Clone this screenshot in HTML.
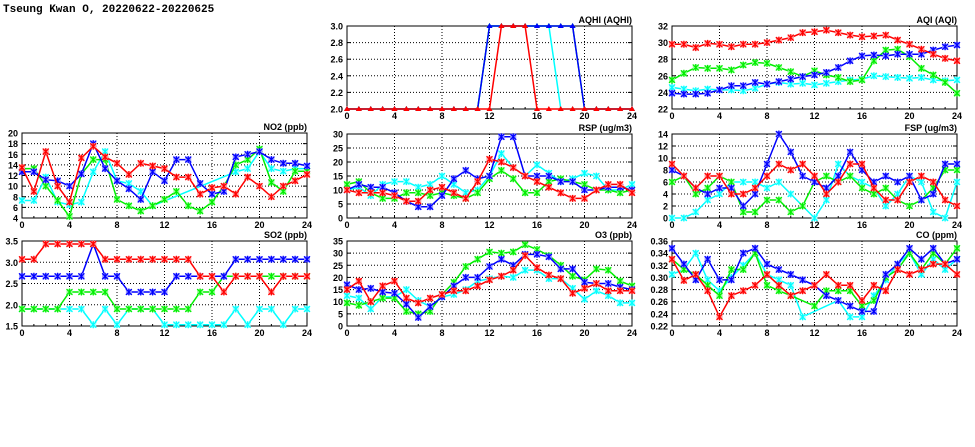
<!DOCTYPE html>
<html><head><meta charset="utf-8">
<style>
html,body{margin:0;padding:0;background:#fff;width:975px;height:447px;overflow:hidden}
svg{display:block;font-family:"Liberation Sans",sans-serif}
</style></head>
<body>
<svg id="chart" width="975" height="447" viewBox="0 0 975 447" xmlns="http://www.w3.org/2000/svg">
<text x="3" y="12" font-size="11" font-weight="bold" font-family="Liberation Mono, monospace">Tseung Kwan O, 20220622-20220625</text>
</svg>
<script>
const hours = [0,1,2,3,4,5,6,7,8,9,10,11,12,13,14,15,16,17,18,19,20,21,22,23,24];
const xTicks = [0,4,8,12,16,20,24];
const seriesOrder = ['cyan','green','blue','red'];

const aqhiRed   = [2,2,2,2,2,2,2,2,2,2,2,2,2,3,3,3,2,2,2,2,2,2,2,2,2];
const aqhiBlue  = [2,2,2,2,2,2,2,2,2,2,2,2,3,3,3,3,3,3,3,3,2,2,2,2,2];
const aqhiGreen = [2,2,2,2,2,2,2,2,2,2,2,2,3,3,3,3,3,3,3,3,2,2,2,2,2];
const aqhiCyan  = [2,2,2,2,2,2,2,2,2,2,2,2,3,3,3,3,3,3,2,2,2,2,2,2,2];
const aqhiTicks = [2.0,2.2,2.4,2.6,2.8,3.0];

const aqiRed   = [29.8,29.8,29.4,29.9,29.8,29.5,29.8,29.8,30,30.3,30.6,31.2,31.3,31.5,31.2,30.9,30.7,30.8,30.9,30.3,29.8,29.2,28.6,28.1,27.8];
const aqiBlue  = [23.9,23.8,23.8,23.9,24.3,24.8,24.8,25.2,25,25.3,25.6,25.9,26.1,26.4,27,27.8,28.4,28.5,28.4,28.6,28.6,28.6,29.1,29.5,29.7];
const aqiGreen = [25.5,26.3,27,26.9,26.9,26.7,27.3,27.6,27.5,27,26.5,25.9,26.6,26.1,25.8,25.3,25.5,27.8,29.1,29.2,28.3,26.9,26.1,25.2,23.9];
const aqiCyan  = [24.6,24.4,24.2,24.4,24.3,24.3,24.2,24.5,25,25.2,25,25.1,24.9,25.1,25.3,25.5,25.6,26,25.9,25.8,25.7,25.8,25.5,25.4,25.5];
const aqiTicks = [22,24,26,28,30,32];

const no2Red   = [13.5,9,16.5,10,7,15.3,17.5,15.5,14.3,12.2,14.3,13.8,13.3,11.7,11.7,8.5,9.7,10,8.5,11.7,10,8,10,11,12.2];
const no2Blue  = [12.7,12.7,11.2,11,10,12.3,18,13.3,11,9.5,7.5,12.7,11,15,15,10.5,8.5,9,15.5,16,16.5,15,14.3,14.3,13.8];
const no2Green = [13.3,13.3,10,7.3,4.3,12.3,15,15,7.5,6.3,5.3,6.3,7.5,9,6.3,5.3,7,10,14,15,17,10.7,9,12.8,12.8];
const no2Cyan  = [7.3,7.3,11.7,7,6.5,7,12.7,16.5,11,10.5,9,6.3,null,null,null,null,null,null,12.7,13.3,16.5,13.3,12.8,13.3,13.3];
const no2Ticks = [4,6,8,10,12,14,16,18,20];

const rspRed   = [10,9,9,9,8,6,6,10,11,9,7,13,21,20,18,15,13,11,9,7,7,10,12,12,9];
const rspBlue  = [10,12,11,11,9,6,4,4,8,14,17,14,15,29,29,15,15,15,13,13,10,10,11,11,10];
const rspGreen = [12,13,9,7,7,9,9,8,9,8,7,9,14,17,14,9,9,13,14,13,12,10,10,9,10];
const rspCyan  = [10,11,8,12,13,13,11,12,15,12,9,10,15,23,18,15,19,16,13,14,16,15,10,10,12];
const rspTicks = [0,5,10,15,20,25,30];

const fspRed   = [9,7,5,7,7,4,4,5,7,9,8,9,7,4,6,9,9,5,3,3,6,7,6,3,2];
const fspBlue  = [8,7,5,4,5,5,2,4,9,14,11,7,6,5,7,11,8,6,7,6,7,3,4,9,9];
const fspGreen = [6,7,4,5,7,6,1,1,3,3,1,2,6,7,6,7,5,4,5,3,2,3,5,8,8];
const fspCyan  = [0,0,1,3,4,6,6,6,5,6,4,2,0,3,9,7,6,5,2,4,7,6,1,0,6];
const fspTicks = [0,2,4,6,8,10,12,14];

const so2Red   = [3.07,3.07,3.43,3.43,3.43,3.43,3.43,3.07,3.07,3.07,3.07,3.07,3.07,3.07,3.07,2.67,2.67,2.3,2.67,2.67,2.67,2.3,2.67,2.67,2.67];
const so2Blue  = [2.67,2.67,2.67,2.67,2.67,2.67,3.43,2.67,2.67,2.3,2.3,2.3,2.3,2.67,2.67,2.67,2.67,2.67,3.07,3.07,3.07,3.07,3.07,3.07,3.07];
const so2Green = [1.9,1.9,1.9,1.9,2.3,2.3,2.3,2.3,1.9,1.9,1.9,1.9,1.9,1.9,1.9,2.3,2.3,2.67,2.67,2.67,2.67,2.67,2.67,2.67,2.67];
const so2Cyan  = [1.9,1.9,1.9,1.9,1.9,1.9,1.53,1.9,1.53,1.9,1.9,1.9,1.53,1.53,1.53,1.53,1.53,1.53,1.9,1.53,1.9,1.9,1.53,1.9,1.9];
const so2Ticks = [1.5,2.0,2.5,3.0,3.5];

const o3Red   = [15,18.5,10,16.5,18.5,11.5,9.5,11.5,13,14.5,14.5,16.5,19,20.5,23,29,24,21,19.5,13.5,15.5,17.5,14.5,14.5,14.5];
const o3Blue  = [17,15,15.5,14,13.5,9,3.5,8,12,16.5,20,20,24.5,27.5,25,29.5,29.5,28.5,23.5,23.5,18,17.5,17.5,16,15];
const o3Green = [9.5,8.5,10,11.5,11.5,6,5,6,13,18,24.5,27.5,30.5,30,30.5,33.5,31.5,29,25,20.5,19,23.5,23,18.5,16.5];
const o3Cyan  = [12.5,11.5,7,12,12,15,10.5,8,12,13,15,18.5,19.5,20.5,20,23,23,19.5,19.5,15.5,11,14.5,12.5,9.5,9.5];
const o3Ticks = [0,5,10,15,20,25,30,35];

const coRed   = [.33,.295,.305,.278,.235,.27,.278,.287,.305,.287,.27,.278,.287,.305,.287,.287,.262,.287,.278,.313,.305,.313,.322,.322,.305];
const coBlue  = [.348,.322,.296,.33,.296,.296,.34,.348,.322,.313,.305,.296,.287,.27,.262,.253,.244,.244,.305,.322,.348,.33,.348,.322,.33];
const coGreen = [.33,.313,.305,.287,.27,.313,.313,.34,.287,.278,.27,null,.253,.278,.278,.278,.253,.262,.30,.313,.34,.313,.34,.322,.348];
const coCyan  = [.305,.313,.34,.296,.278,.30,.32,.34,.305,.296,.287,.235,null,null,.262,.235,.235,.27,.296,.322,.34,.305,.33,.313,.33];
const coTicks = [0.22,0.24,0.26,0.28,0.30,0.32,0.34,0.36];

const colors = {red:'#ff0000',blue:'#0000ff',green:'#00ee00',cyan:'#00ffff'};
const fills = {red:'#ff9999',blue:'#9999ff',green:'#99ff99',cyan:'#aaffff'};
const NS = 'http://www.w3.org/2000/svg';
const svg = document.getElementById('chart');

function mk(tag, attrs, parent){
  const e = document.createElementNS(NS, tag);
  for (const k in attrs) e.setAttribute(k, attrs[k]);
  (parent||svg).appendChild(e);
  return e;
}

function panel(cfg){
  const g = mk('g', {});
  
  
  const L = cfg.x, T = cfg.y, W = 285, H = cfg.h;
  const ymin = cfg.ticks[0], ymax = cfg.ticks[cfg.ticks.length-1];
  const sx = v => L + (v - 0) / 24 * W;
  const sy = v => T + H - (v - ymin) / (ymax - ymin) * H;
  // grid
  cfg.ticks.forEach((t, i) => {
    const y = sy(t);
    if (i > 0 && i < cfg.ticks.length-1) {
      const gl = mk('line', {x1:L, x2:L+W, y1:y, y2:y, stroke:'#000', 'stroke-width':1, 'stroke-dasharray':'1,2'}, g);
      
      
    }
    mk('line', {x1:L, x2:L+4, y1:y, y2:y, stroke:'#000'}, g);
    mk('line', {x1:L+W-4, x2:L+W, y1:y, y2:y, stroke:'#000'}, g);
    const tl = mk('text', {x:L-4, y:y+3.5, 'text-anchor':'end', 'font-size':9, 'font-weight':'bold'}, g);
    tl.textContent = cfg.fmt(t);
    
    
  });
  hours.forEach(h => {
    const x = sx(h);
    mk('line', {x1:x, x2:x, y1:T+H, y2:T+H-2, stroke:'#000'}, g);
  });
  xTicks.forEach((t, i) => {
    const x = sx(t);
    if (i > 0 && i < xTicks.length-1) {
      const gl = mk('line', {x1:x, x2:x, y1:T, y2:T+H, stroke:'#000', 'stroke-width':1, 'stroke-dasharray':'1,2'}, g);
      
      
    }
    const tl = mk('text', {x:x, y:T+H+10, 'text-anchor':'middle', 'font-size':9, 'font-weight':'bold'}, g);
    tl.textContent = t;
    
    
  });
  const frame = mk('rect', {x:L, y:T, width:W, height:H, fill:'none', stroke:'#000', 'stroke-width':1}, g);
  
  
  const ttl = mk('text', {x:L+W, y:T-3, 'text-anchor':'end', 'font-size':9, 'font-weight':'bold'}, g);
  ttl.textContent = cfg.title;
  
  
  // series
  seriesOrder.forEach(c => {
    const data = cfg.series[c];
    const sg = mk('g', {}, g);
    
    
    let d = '';
    hours.forEach((h, i) => {
      const v = data[i];
      if (v === null || v === undefined) return;
      d += (d ? 'L' : 'M') + sx(h).toFixed(1) + ',' + sy(v).toFixed(1);
    });
    const p = mk('path', {d:d, fill:'none', stroke:colors[c], 'stroke-width':1.5}, sg);
    
    
    hours.forEach((h, i) => {
      const v = data[i];
      if (v === null || v === undefined) return;
      const x = sx(h), y = sy(v);
      let m;
      if (cfg.tri) {
        m = mk('path', {d:`M${x-3},${y+2}L${x+3},${y+2}L${x},${y-3}Z`, fill:colors[c]}, sg);
      } else {
        m = mk('g', {}, sg);
        mk('rect', {x:x-3, y:y-3, width:6, height:6, fill:fills[c]}, m);
        mk('path', {d:`M${x-3},${y-3}L${x+3},${y+3}M${x+3},${y-3}L${x-3},${y+3}M${x},${y-3.5}L${x},${y+3.5}`, stroke:colors[c], 'stroke-width':1.2}, m);
      }
      
      
    });
  });
}

const f1 = v => v.toFixed(1);
const f0 = v => String(v);
const f2 = v => v.toFixed(2);

panel({id:'aqhi', title:'AQHI (AQHI)', x:347, y:26, h:83, ticks:aqhiTicks, fmt:f1, tri:true,
  series:{red:aqhiRed, blue:aqhiBlue, green:aqhiGreen, cyan:aqhiCyan}});
panel({id:'aqi', title:'AQI (AQI)', x:672, y:26, h:83, ticks:aqiTicks, fmt:f0,
  series:{red:aqiRed, blue:aqiBlue, green:aqiGreen, cyan:aqiCyan}});
panel({id:'no2', title:'NO2 (ppb)', x:22, y:133, h:85, ticks:no2Ticks, fmt:f0,
  series:{red:no2Red, blue:no2Blue, green:no2Green, cyan:no2Cyan}});
panel({id:'rsp', title:'RSP (ug/m3)', x:347, y:134, h:84, ticks:rspTicks, fmt:f0,
  series:{red:rspRed, blue:rspBlue, green:rspGreen, cyan:rspCyan}});
panel({id:'fsp', title:'FSP (ug/m3)', x:672, y:134, h:84, ticks:fspTicks, fmt:f0,
  series:{red:fspRed, blue:fspBlue, green:fspGreen, cyan:fspCyan}});
panel({id:'so2', title:'SO2 (ppb)', x:22, y:241, h:85, ticks:so2Ticks, fmt:f1,
  series:{red:so2Red, blue:so2Blue, green:so2Green, cyan:so2Cyan}});
panel({id:'o3', title:'O3 (ppb)', x:347, y:241, h:85, ticks:o3Ticks, fmt:f0,
  series:{red:o3Red, blue:o3Blue, green:o3Green, cyan:o3Cyan}});
panel({id:'co', title:'CO (ppm)', x:672, y:241, h:85, ticks:coTicks, fmt:f2,
  series:{red:coRed, blue:coBlue, green:coGreen, cyan:coCyan}});
</script>
</body></html>
